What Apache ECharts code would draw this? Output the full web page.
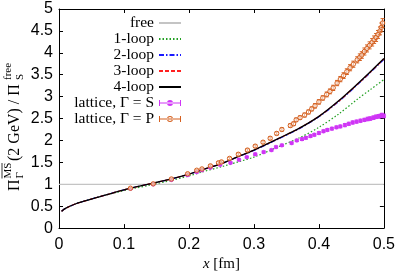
<!DOCTYPE html>
<html><head><meta charset="utf-8">
<script src="https://cdn.jsdelivr.net/npm/echarts@6/dist/echarts.min.js"></script>
<style>html,body{margin:0;padding:0;background:#fff}#c{width:398px;height:277px}</style>
</head><body><div id="c"></div>
<script>
const xTicks = [0, 0.1, 0.2, 0.3, 0.4, 0.5];
const yTicks = [0, 0.5, 1, 1.5, 2, 2.5, 3, 3.5, 4, 4.5, 5];
const seriesNames = ['free', '1-loop', '2-loop', '3-loop', '4-loop', 'lattice, Γ = S', 'lattice, Γ = P'];

const freeLine = [[0, 1], [0.5, 1]];
const loop1 = [[0.004,0.385],[0.01,0.45],[0.025,0.55],[0.04,0.62],[0.056,0.69],[0.071,0.75],[0.087,0.81],[0.11,0.89],[0.14,0.98],[0.17,1.08],[0.2,1.19],[0.22,1.28],[0.25,1.4],[0.28,1.53],[0.3,1.62],[0.34,1.87],[0.37,2.06],[0.4,2.3],[0.43,2.6],[0.46,2.95],[0.48,3.17],[0.5,3.39]];
const loop2 = [[0.004,0.385],[0.01,0.45],[0.025,0.55],[0.04,0.62],[0.056,0.69],[0.071,0.75],[0.087,0.82],[0.11,0.91],[0.14,1.01],[0.17,1.11],[0.2,1.23],[0.22,1.33],[0.25,1.47],[0.28,1.65],[0.3,1.77],[0.34,2.05],[0.37,2.27],[0.4,2.54],[0.43,2.88],[0.46,3.28],[0.48,3.56],[0.5,3.85]];
const loop3 = [[0.004,0.385],[0.01,0.45],[0.025,0.55],[0.04,0.62],[0.056,0.69],[0.071,0.75],[0.087,0.82],[0.11,0.91],[0.14,1.01],[0.17,1.11],[0.2,1.23],[0.22,1.33],[0.25,1.47],[0.28,1.66],[0.3,1.78],[0.34,2.06],[0.37,2.28],[0.4,2.55],[0.43,2.89],[0.46,3.29],[0.48,3.57],[0.5,3.86]];
const loop4 = [[0.004,0.385],[0.01,0.45],[0.025,0.55],[0.04,0.62],[0.056,0.69],[0.071,0.75],[0.087,0.82],[0.11,0.91],[0.14,1.01],[0.17,1.11],[0.2,1.23],[0.22,1.33],[0.25,1.47],[0.28,1.66],[0.3,1.78],[0.34,2.06],[0.37,2.28],[0.4,2.55],[0.43,2.9],[0.46,3.3],[0.48,3.58],[0.5,3.87]];

// [x, value, error]
const latticeS = [[0.11,0.9,0.015],[0.145,1.0,0.015],[0.173,1.1,0.015],[0.198,1.21,0.02],[0.212,1.28,0.02],[0.22,1.32,0.02],[0.233,1.38,0.02],[0.248,1.445,0.02],[0.264,1.49,0.02],[0.277,1.56,0.02],[0.289,1.62,0.02],[0.302,1.685,0.025],[0.315,1.735,0.025],[0.327,1.78,0.025],[0.334,1.85,0.025],[0.343,1.89,0.025],[0.358,1.94,0.025],[0.366,2.0,0.025],[0.374,2.03,0.03],[0.38,2.06,0.03],[0.387,2.1,0.03],[0.393,2.13,0.03],[0.4,2.17,0.03],[0.407,2.21,0.03],[0.413,2.24,0.03],[0.42,2.27,0.03],[0.427,2.3,0.03],[0.433,2.32,0.03],[0.44,2.35,0.035],[0.446,2.38,0.035],[0.452,2.41,0.035],[0.458,2.43,0.035],[0.464,2.45,0.035],[0.47,2.47,0.035],[0.475,2.49,0.04],[0.479,2.5,0.04],[0.484,2.52,0.04],[0.488,2.54,0.04],[0.492,2.55,0.04],[0.495,2.56,0.04],[0.497,2.58,0.04],[0.5,2.56,0.04]];
const latticeP = [[0.11,0.91,0.015],[0.145,1.01,0.015],[0.173,1.12,0.02],[0.198,1.24,0.02],[0.212,1.32,0.02],[0.22,1.35,0.02],[0.233,1.42,0.025],[0.2455,1.49,0.025],[0.25,1.51,0.025],[0.2625,1.59,0.025],[0.276,1.685,0.03],[0.29,1.78,0.03],[0.302,1.87,0.03],[0.314,1.96,0.03],[0.325,2.05,0.035],[0.335,2.16,0.035],[0.343,2.25,0.035],[0.356,2.34,0.04],[0.361,2.38,0.04],[0.365,2.47,0.04],[0.371,2.52,0.04],[0.378,2.58,0.045],[0.384,2.65,0.045],[0.389,2.72,0.045],[0.394,2.79,0.05],[0.4,2.88,0.05],[0.406,2.97,0.05],[0.412,3.05,0.055],[0.417,3.12,0.055],[0.422,3.2,0.06],[0.428,3.31,0.06],[0.433,3.4,0.06],[0.438,3.48,0.065],[0.443,3.57,0.065],[0.448,3.66,0.07],[0.453,3.74,0.07],[0.459,3.84,0.07],[0.463,3.9,0.075],[0.466,3.95,0.075],[0.47,4.03,0.08],[0.474,4.1,0.08],[0.478,4.17,0.08],[0.482,4.24,0.085],[0.485,4.3,0.085],[0.488,4.35,0.09],[0.491,4.42,0.09],[0.494,4.5,0.09],[0.496,4.58,0.1],[0.498,4.68,0.1]];

const colS = '#cf35f5';
const colP = '#d5601f';

function errRender(filled, color) {
  return function (params, api) {
    const x = api.value(0), y = api.value(1), e = api.value(2);
    const p = api.coord([x, y]);
    const lo = api.coord([x, y - e]);
    const hi = api.coord([x, y + e]);
    const cw = 2;
    const st = { stroke: color, lineWidth: 1, fill: null };
    return {
      type: 'group',
      children: [
        { type: 'line', shape: { x1: p[0], y1: lo[1], x2: p[0], y2: hi[1] }, style: st },
        { type: 'line', shape: { x1: p[0] - cw, y1: lo[1], x2: p[0] + cw, y2: lo[1] }, style: st },
        { type: 'line', shape: { x1: p[0] - cw, y1: hi[1], x2: p[0] + cw, y2: hi[1] }, style: st },
        { type: 'circle', shape: { cx: p[0], cy: p[1], r: filled ? 1.9 : 2.2 },
          style: filled ? { fill: color, stroke: color, lineWidth: 0.5 } : { fill: 'rgba(255,255,255,0.5)', stroke: color, lineWidth: 1 } }
      ]
    };
  };
}

const iconS = 'path://M0,2H1V4.6H21V2H22V8H21V5.4H1V8H0Z M8,5A3,3 0 1,0 14,5A3,3 0 1,0 8,5Z';
const iconP = 'path://M0,2H1V4.6H21V2H22V8H21V5.4H1V8H0Z M8,5A3,3 0 1,0 14,5A3,3 0 1,0 8,5Z M9,5A2,2 0 1,1 13,5A2,2 0 1,1 9,5Z';

const serif = '"Liberation Serif", "DejaVu Serif", serif';
const sans = '"Liberation Sans", Arial, sans-serif';

const chart = echarts.init(document.getElementById('c'), null, { renderer: 'canvas' });
const axisBase = {
  type: 'value',
  axisLine: { show: true, onZero: false, lineStyle: { color: '#000', width: 1 } },
  axisTick: { show: true, inside: true, length: 4, lineStyle: { color: '#000', width: 1 } },
  splitLine: { show: false }
};
const hideSym = { opacity: 0 };

chart.setOption({
  animation: false,
  backgroundColor: '#fff',
  grid: { left: 59, right: 14, top: 9, bottom: 38, containLabel: false },
  xAxis: [
    Object.assign({}, axisBase, {
      min: xTicks[0], max: xTicks[xTicks.length - 1], interval: 0.1, position: 'bottom',
      axisLabel: { color: '#000', fontSize: 16, fontFamily: sans, margin: 8, formatter: v => String(+v.toFixed(1)) },
      name: '{i|x} [fm]', nameLocation: 'middle', nameGap: 27,
      nameTextStyle: { color: '#000', fontSize: 15, fontFamily: serif, rich: { i: { fontStyle: 'italic', fontSize: 15, fontFamily: serif } } }
    }),
    Object.assign({}, axisBase, {
      min: xTicks[0], max: xTicks[xTicks.length - 1], interval: 0.1, position: 'top', axisLabel: { show: false }
    })
  ],
  yAxis: [
    Object.assign({}, axisBase, {
      min: yTicks[0], max: yTicks[yTicks.length - 1], interval: 0.5, position: 'left',
      axisLabel: { color: '#000', fontSize: 16, fontFamily: sans, margin: 6 }
    }),
    Object.assign({}, axisBase, {
      min: yTicks[0], max: yTicks[yTicks.length - 1], interval: 0.5, position: 'right', axisLabel: { show: false }
    })
  ],
  legend: {
    orient: 'vertical', left: 63, top: 15, padding: 0, align: 'right',
    itemWidth: 22, itemHeight: 6, itemGap: 0,
    textStyle: { fontFamily: serif, fontSize: 15.5, color: '#000', width: 91, align: 'right', lineHeight: 16 },
    data: [
      { name: seriesNames[0], itemStyle: hideSym },
      { name: seriesNames[1], itemStyle: hideSym },
      { name: seriesNames[2], itemStyle: hideSym },
      { name: seriesNames[3], itemStyle: hideSym },
      { name: seriesNames[4], itemStyle: hideSym },
      { name: seriesNames[5], icon: iconS }, { name: seriesNames[6], icon: iconP }]
  },
  series: [
    { name: seriesNames[0], type: 'line', data: freeLine, symbol: 'none', lineStyle: { color: '#c4c4c4', width: 1.3 }, itemStyle: { color: '#c4c4c4' } },
    { name: seriesNames[1], type: 'line', data: loop1, symbol: 'none', smooth: 0.3, lineStyle: { color: '#22a022', width: 1.2, type: [1.5, 2] }, itemStyle: { color: '#22a022' } },
    { name: seriesNames[2], type: 'line', data: loop2, symbol: 'none', smooth: 0.3, lineStyle: { color: '#1a1aff', width: 1.2, type: [5, 2, 1.5, 2] }, itemStyle: { color: '#1a1aff' } },
    { name: seriesNames[3], type: 'line', data: loop3, symbol: 'none', smooth: 0.3, lineStyle: { color: '#ff2020', width: 1.2, type: [4, 2] }, itemStyle: { color: '#ff2020' } },
    { name: seriesNames[4], type: 'line', data: loop4, symbol: 'none', smooth: 0.3, lineStyle: { color: '#000', width: 1.3 }, itemStyle: { color: '#000' } },
    { name: seriesNames[5], type: 'custom', data: latticeS, renderItem: errRender(true, colS), itemStyle: { color: colS }, encode: { x: 0, y: 1 }, z: 5 },
    { name: seriesNames[6], type: 'custom', data: latticeP, renderItem: errRender(false, colP), itemStyle: { color: colP }, encode: { x: 0, y: 1 }, z: 6 }
  ],
  graphic: [{
    type: 'group', x: 15, y: 191, rotation: Math.PI / 2,
    children: [
      { type: 'text', x: 0, y: 0, style: { text: 'Π', fontSize: 16, fontFamily: serif, fill: '#000', align: 'left', verticalAlign: 'middle' } },
      { type: 'text', x: 12.5, y: 5, style: { text: 'Γ', fontSize: 11, fontFamily: serif, fill: '#000', align: 'left', verticalAlign: 'middle' } },
      { type: 'text', x: 12.5, y: -7, style: { text: 'MS', fontSize: 11, fontFamily: serif, fill: '#000', align: 'left', verticalAlign: 'middle' } },
      { type: 'line', shape: { x1: 12.5, y1: -13, x2: 28, y2: -13 }, style: { stroke: '#000', lineWidth: 0.8 } },
      { type: 'text', x: 30, y: 0, style: { text: '(2 GeV) / Π', fontSize: 16, fontFamily: serif, fill: '#000', align: 'left', verticalAlign: 'middle' } },
      { type: 'text', x: 111, y: 5, style: { text: 'S', fontSize: 11, fontFamily: serif, fill: '#000', align: 'left', verticalAlign: 'middle' } },
      { type: 'text', x: 111, y: -7, style: { text: 'free', fontSize: 11, fontFamily: serif, fill: '#000', align: 'left', verticalAlign: 'middle' } }
    ]
  }]
});
</script></body></html>
